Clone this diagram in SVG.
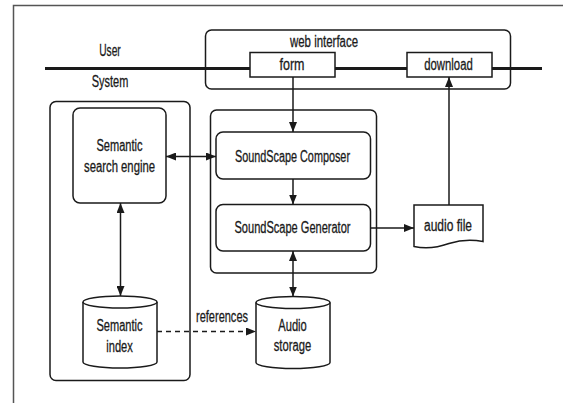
<svg xmlns="http://www.w3.org/2000/svg" width="563" height="403" viewBox="0 0 563 403">
<style>
  .box { fill: #ffffff; stroke: #1a1a1a; stroke-width: 1.5; }
  .grp { fill: none; stroke: #1a1a1a; stroke-width: 1.5; }
  .lbl { font-family: "Liberation Sans Narrow", "Liberation Sans", Arial, sans-serif; font-size: 16px; fill: #1a1a1a; stroke: #1a1a1a; stroke-width: 0.3; text-anchor: middle; }
  .conn { fill: none; stroke: #1a1a1a; stroke-width: 1.5; }
  .dash { stroke-dasharray: 5 4; }
</style>
<defs>
  <marker id="ah" viewBox="0 0 10 8" refX="10" refY="4" markerWidth="10" markerHeight="8" markerUnits="userSpaceOnUse" orient="auto-start-reverse">
    <path d="M0,0 L10,4 L0,8 Z" fill="#1a1a1a"/>
  </marker>
</defs>
<rect x="0" y="0" width="563" height="403" fill="#ffffff"/>
<path d="M13.5,403 V5.5 H563" fill="none" stroke="#555555" stroke-width="1.5"/>

<g id="boundary">
  <line x1="45" y1="68.5" x2="542" y2="68.5" stroke="#1a1a1a" stroke-width="3"/>
  <text class="lbl" x="110" y="56" textLength="21.5" lengthAdjust="spacingAndGlyphs">User</text>
  <text class="lbl" x="110" y="87" textLength="36.5" lengthAdjust="spacingAndGlyphs">System</text>
</g>

<g id="web-interface">
  <rect class="grp" x="205.5" y="30" width="305" height="59" rx="6"/>
  <text class="lbl" x="324" y="47" textLength="68" lengthAdjust="spacingAndGlyphs">web interface</text>
</g>
<g id="form">
  <rect class="box" x="250" y="52.5" width="85" height="24.5"/>
  <text class="lbl" x="292" y="70" textLength="25" lengthAdjust="spacingAndGlyphs">form</text>
</g>
<g id="download">
  <rect class="box" x="407" y="52.5" width="85" height="24.5"/>
  <text class="lbl" x="448.5" y="70" textLength="48.5" lengthAdjust="spacingAndGlyphs">download</text>
</g>

<g id="system-left">
  <rect class="grp" x="50" y="101.5" width="140" height="279" rx="6"/>
</g>
<g id="semantic-search-engine">
  <rect class="box" x="73" y="108" width="93" height="95" rx="7"/>
  <text class="lbl" x="119.5" y="151" textLength="46" lengthAdjust="spacingAndGlyphs">Semantic</text>
  <text class="lbl" x="119.5" y="171.5" textLength="71" lengthAdjust="spacingAndGlyphs">search engine</text>
</g>

<g id="soundscape-container">
  <rect class="grp" x="210.5" y="110" width="166" height="163" rx="6"/>
</g>
<g id="soundscape-composer">
  <rect class="box" x="216" y="132" width="154.5" height="47" rx="7"/>
  <text class="lbl" x="292.5" y="161.5" textLength="115" lengthAdjust="spacingAndGlyphs">SoundScape Composer</text>
</g>
<g id="soundscape-generator">
  <rect class="box" x="216" y="204.5" width="154.5" height="46.5" rx="7"/>
  <text class="lbl" x="292.5" y="233" textLength="116" lengthAdjust="spacingAndGlyphs">SoundScape Generator</text>
</g>

<g id="audio-file">
  <path class="box" d="M414,205 H483 V241.5 Q466,238 449,243.5 Q431,250 414,246.5 Z"/>
  <text class="lbl" x="448" y="231" textLength="48" lengthAdjust="spacingAndGlyphs">audio file</text>
</g>

<g id="semantic-index">
  <path class="box" d="M83,302 V362 A37,6 0 0 0 157,362 V302"/>
  <ellipse class="box" cx="120" cy="302" rx="37" ry="6"/>
  <text class="lbl" x="119.5" y="331" textLength="46" lengthAdjust="spacingAndGlyphs">Semantic</text>
  <text class="lbl" x="119.5" y="351.5" textLength="26.5" lengthAdjust="spacingAndGlyphs">index</text>
</g>

<g id="audio-storage">
  <path class="box" d="M256,302.5 V362.5 A37,6 0 0 0 330,362.5 V302.5"/>
  <ellipse class="box" cx="293" cy="302.5" rx="37" ry="6"/>
  <text class="lbl" x="292.5" y="330.5" textLength="28.5" lengthAdjust="spacingAndGlyphs">Audio</text>
  <text class="lbl" x="292.5" y="351" textLength="37.5" lengthAdjust="spacingAndGlyphs">storage</text>
</g>

<g id="connectors">
  <line class="conn" x1="293" y1="77" x2="293" y2="132" marker-end="url(#ah)"/>
  <line class="conn" x1="293" y1="179" x2="293" y2="204.5" marker-end="url(#ah)"/>
  <line class="conn" x1="166" y1="156.5" x2="216" y2="156.5" marker-start="url(#ah)" marker-end="url(#ah)"/>
  <line class="conn" x1="120.5" y1="203" x2="120.5" y2="296" marker-start="url(#ah)" marker-end="url(#ah)"/>
  <line class="conn" x1="293" y1="251" x2="293" y2="296.5" marker-start="url(#ah)" marker-end="url(#ah)"/>
  <line class="conn" x1="370.5" y1="228" x2="414" y2="228" marker-end="url(#ah)"/>
  <line class="conn" x1="449" y1="205" x2="449" y2="77" marker-end="url(#ah)"/>
  <line class="conn dash" x1="157" y1="331.5" x2="256" y2="331.5" marker-end="url(#ah)"/>
  <text class="lbl" x="222" y="321.5" textLength="52" lengthAdjust="spacingAndGlyphs">references</text>
</g>
</svg>
